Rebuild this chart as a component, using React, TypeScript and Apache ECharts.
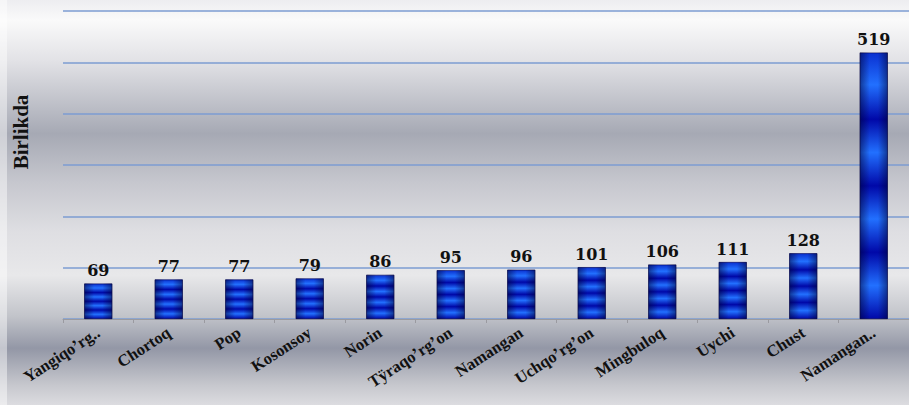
import React, { useEffect, useRef } from "react";
import * as echarts from "echarts";

const categories = [
  "Yangiqo’rg..",
  "Chortoq",
  "Pop",
  "Kosonsoy",
  "Norin",
  "Tÿraqo’rg’on",
  "Namangan",
  "Uchqo’rg’on",
  "Mingbuloq",
  "Uychi",
  "Chust",
  "Namangan..",
];
const values = [69, 77, 77, 79, 86, 95, 96, 101, 106, 111, 128, 519];
const axisName = "Birlikda";

export default function App() {
  const ref = useRef<HTMLDivElement>(null);
  useEffect(() => {
    if (!ref.current) return;
    const chart = echarts.init(ref.current, undefined, { renderer: "svg" });
    const dark = "#0008a8";
    const bright = "#2270ff";
    const stripe = new echarts.graphic.LinearGradient(0, 0, 0, 1, [
      { offset: 0, color: "#0a30d0" },
      { offset: 0.12, color: bright },
      { offset: 0.25, color: dark },
      { offset: 0.375, color: bright },
      { offset: 0.5, color: dark },
      { offset: 0.625, color: bright },
      { offset: 0.75, color: dark },
      { offset: 0.875, color: bright },
      { offset: 1, color: dark },
    ]);
    const shade = new echarts.graphic.LinearGradient(0, 0, 1, 0, [
      { offset: 0, color: "rgba(0,0,40,0.5)" },
      { offset: 0.35, color: "rgba(0,0,40,0)" },
      { offset: 0.65, color: "rgba(0,0,40,0)" },
      { offset: 1, color: "rgba(0,0,40,0.5)" },
    ]);
    const bg = new echarts.graphic.LinearGradient(0, 0, 0, 1, [
      { offset: 0, color: "#ededf0" },
      { offset: 0.05, color: "#fafafa" },
      { offset: 0.15, color: "#e2e2e6" },
      { offset: 0.33, color: "#a6a9b4" },
      { offset: 0.45, color: "#c6c7ce" },
      { offset: 0.57, color: "#dedee2" },
      { offset: 0.68, color: "#e8e8ea" },
      { offset: 0.78, color: "#c2c4ca" },
      { offset: 0.86, color: "#9397a6" },
      { offset: 0.95, color: "#c6c7cd" },
      { offset: 1, color: "#dcdce0" },
    ]);
    chart.setOption({
      animation: false,
      backgroundColor: bg,
      grid: { left: 63, right: 0, top: 11, bottom: 86, containLabel: false },
      graphic: [
        {
          type: "rect",
          shape: { x: 0, y: 0, width: 7, height: 405 },
          style: { fill: "rgba(255,255,255,0.45)" },
          silent: true,
        },
        {
          type: "text",
          x: 21,
          y: 132,
          rotation: Math.PI / 2,
          style: {
            text: axisName,
            fontFamily: "Liberation Serif",
            fontWeight: "bold",
            fontSize: 21,
            fill: "#111",
            textAlign: "center",
            textVerticalAlign: "middle",
          },
        },
      ],
      xAxis: {
        type: "category",
        data: categories,
        axisLine: { show: true, lineStyle: { color: "#9a9aa0", width: 1 } },
        axisTick: { show: true, length: 4, lineStyle: { color: "#9a9aa0" } },
        axisLabel: {
          interval: 0,
          rotate: 33,
          fontFamily: "Liberation Serif",
          fontWeight: "bold",
          fontSize: 16.5,
          color: "#111",
          margin: 12,
        },
      },
      yAxis: {
        type: "value",
        min: 0,
        max: 600,
        interval: 100,
        axisLabel: { show: false },
        axisLine: { show: false },
        axisTick: { show: false },
        splitLine: { lineStyle: { color: "#7d9dd2", width: 1.5 } },
      },
      series: [
        {
          type: "bar",
          data: values,
          barWidth: 28,
          itemStyle: { color: stripe, borderColor: "#000050", borderWidth: 0.6 },
          label: {
            show: true,
            position: "top",
            distance: 5,
            fontFamily: "DejaVu Serif",
            fontWeight: "bold",
            fontSize: 16,
            color: "#111",
          },
        },
        {
          type: "bar",
          data: values,
          barWidth: 28,
          barGap: "-100%",
          silent: true,
          itemStyle: { color: shade },
          label: { show: false },
        },
      ],
    });
    return () => chart.dispose();
  }, []);
  return (
    <div
      ref={ref}
      style={{ position: "fixed", left: 0, top: 0, width: 909, height: 405 }}
    />
  );
}
